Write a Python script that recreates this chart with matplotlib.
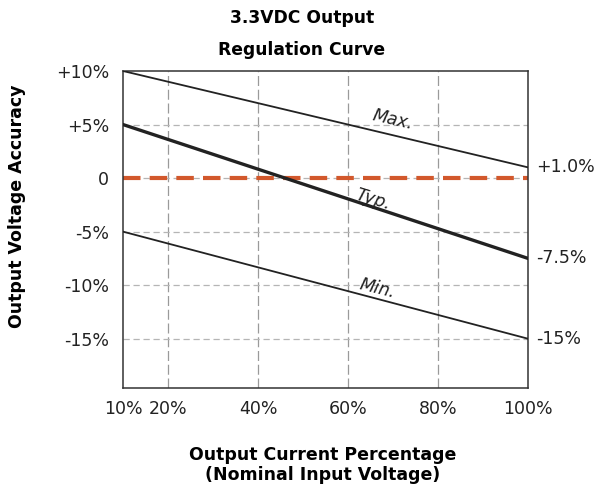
import numpy as np
import matplotlib
matplotlib.use("Agg")
import matplotlib.pyplot as plt

# data
load_pct = [10, 100]
max_acc = [10, 1.0]
typ_acc = [5, -7.5]
min_acc = [-5, -15]
zero_ref = [0, 0]

x_ticks = [10, 20, 40, 60, 80, 100]
x_labels = ["10%", "20%", "40%", "60%", "80%", "100%"]
y_ticks = [10, 5, 0, -5, -10, -15]
y_labels = ["+10%", "+5%", "0", "-5%", "-10%", "-15%"]
end_labels = ["+1.0%", "-7.5%", "-15%"]

fig = plt.figure(figsize=(5.98, 4.91), dpi=100)
ax = fig.add_axes([0.2057, 0.2098, 0.6773, 0.6456])

ax.set_xlim(10, 100)
ax.set_ylim(-19.6, 10)

# grid
for x in x_ticks[1:-1]:
    ax.axvline(x, color="#9a9a9a", lw=0.9, ls=(0, (8, 3)), zorder=1)
for y in y_ticks[1:]:
    ax.axhline(y, color="#b5b5b5", lw=0.9, ls=(0, (5, 3)), zorder=1)

ax.plot(load_pct, zero_ref, color="#d2582c", lw=3, ls=(0, (4.2, 2.2)), zorder=2)
ax.plot(load_pct, max_acc, color="#222222", lw=1.3, zorder=3)
ax.plot(load_pct, typ_acc, color="#222222", lw=2.4, zorder=3)
ax.plot(load_pct, min_acc, color="#222222", lw=1.3, zorder=3)

ax.set_xticks(x_ticks)
ax.set_xticklabels(x_labels)
ax.set_yticks(y_ticks)
ax.set_yticklabels(y_labels)
ax.tick_params(length=0, labelsize=12.5, colors="#222222", pad=10)
ax.tick_params(axis="x", pad=9)
for s in ax.spines.values():
    s.set_color("#333333")
    s.set_linewidth(1.1)

# curve names
ax.text(70, 5.4, "Max.", fontsize=12.5, style="italic", rotation=-13,
        ha="center", va="center", color="#222222")
ax.text(65.5, -2.0, "Typ.", fontsize=12.5, style="italic", rotation=-17,
        ha="center", va="center", color="#222222")
ax.text(66.5, -10.3, "Min.", fontsize=12.5, style="italic", rotation=-14,
        ha="center", va="center", color="#222222")

# values at full load
for v, lab in zip([max_acc[1], typ_acc[1], min_acc[1]], end_labels):
    ax.annotate(lab, xy=(100, v), xytext=(6, 0), textcoords="offset points",
                fontsize=12.5, ha="left", va="center", color="#222222",
                annotation_clip=False)

fig.text(0.505, 0.963, "3.3VDC Output", fontsize=12.3, fontweight="bold",
         ha="center", va="center")
fig.text(0.505, 0.898, "Regulation Curve", fontsize=12.3, fontweight="bold",
         ha="center", va="center")
fig.text(0.028, 0.58, "Output Voltage Accuracy", fontsize=12.5, fontweight="bold",
         rotation=90, ha="center", va="center")
fig.text(0.539, 0.053, "Output Current Percentage\n(Nominal Input Voltage)",
         fontsize=12.5, fontweight="bold", ha="center", va="center",
         linespacing=1.2)

fig.savefig("out.png", dpi=100)
